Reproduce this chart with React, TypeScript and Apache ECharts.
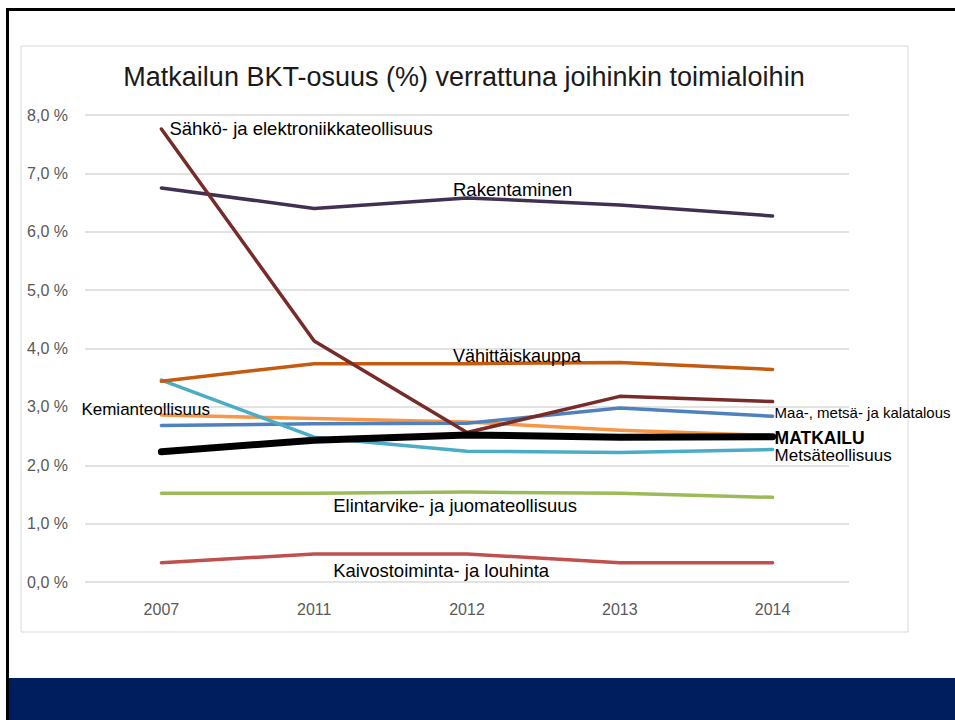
import React, { useEffect, useRef } from "react";
import * as echarts from "echarts";

const years = ["2007", "2011", "2012", "2013", "2014"];
const yTicks = [0, 1, 2, 3, 4, 5, 6, 7, 8];

const kaivos = [0.33, 0.48, 0.48, 0.33, 0.33];
const elintarvike = [1.52, 1.52, 1.54, 1.52, 1.45];
const kemian = [2.86, 2.8, 2.74, 2.6, 2.51];
const maa = [2.68, 2.71, 2.72, 2.98, 2.84];
const metsa = [3.46, 2.48, 2.24, 2.22, 2.27];
const vahittais = [3.44, 3.74, 3.74, 3.76, 3.64];
const rakentaminen = [6.75, 6.4, 6.58, 6.46, 6.27];
const sahko = [7.76, 4.13, 2.56, 3.18, 3.09];
const matkailu = [2.23, 2.43, 2.52, 2.48, 2.49];

const seriesNames = [
  "Kaivostoiminta- ja louhinta",
  "Elintarvike- ja juomateollisuus",
  "Kemianteollisuus",
  "Maa-, metsä- ja kalatalous",
  "Metsäteollisuus",
  "Vähittäiskauppa",
  "Rakentaminen",
  "Sähkö- ja elektroniikkateollisuus",
  "MATKAILU",
];
const seriesData = [kaivos, elintarvike, kemian, maa, metsa, vahittais, rakentaminen, sahko, matkailu];
const seriesColors = ["#C0504D", "#9BBB59", "#F79646", "#4F81BD", "#4BACC6", "#C55A11", "#403152", "#772C2A", "#000000"];

// label anchor: [seriesIndex, categoryIndex, dx, dy, fontSize, bold]
const labelAnchors: [number, number, number, number, number, boolean][] = [
  [0, 1, 19, 17, 18.5, false],
  [1, 1, 19, 12, 18.5, false],
  [2, 0, -80, -6, 17, false],
  [3, 4, 2, -4, 15, false],
  [4, 4, 2, 6, 17, false],
  [5, 2, -14, -8, 18, false],
  [6, 2, -14, -8, 18.5, false],
  [7, 0, 8, -1, 18.5, false],
  [8, 4, 2, 1, 17.5, true],
];

const FONT = "'Liberation Sans', Arial, sans-serif";

export default function App() {
  const ref = useRef<HTMLDivElement>(null);
  useEffect(() => {
    if (!ref.current) return;
    const chart = echarts.init(ref.current, null, { renderer: "svg" });
    chart.setOption({
      animation: false,
      backgroundColor: "#ffffff",
      grid: { left: 85, right: 106, top: 115, bottom: 138 },
      xAxis: {
        type: "category",
        data: years,
        boundaryGap: true,
        axisLine: { show: false },
        axisTick: { show: false },
        axisLabel: { color: "#595959", fontSize: 16, fontFamily: FONT, margin: 19 },
      },
      yAxis: {
        type: "value",
        min: yTicks[0],
        max: yTicks[yTicks.length - 1],
        interval: 1,
        axisLine: { show: false },
        axisTick: { show: false },
        splitLine: { lineStyle: { color: "#D9D9D9", width: 1.5 } },
        axisLabel: {
          color: "#595959",
          fontSize: 16,
          fontFamily: FONT,
          margin: 17,
          formatter: (v: number) => v.toFixed(1).replace(".", ",") + " %",
        },
      },
      series: seriesNames.map((name, i) => ({
        name,
        type: "line",
        data: seriesData[i],
        showSymbol: false,
        symbol: "none",
        lineStyle: { color: seriesColors[i], width: name === "MATKAILU" ? 7 : 3.5, cap: "round", join: "round" },
        z: 2 + i,
      })),
    });

    const labels = labelAnchors.map(([si, ci, dx, dy, fs, bold]) => {
      const p = chart.convertToPixel({ seriesIndex: si }, [ci, seriesData[si][ci]]) as number[];
      return {
        type: "text",
        x: p[0] + dx,
        y: p[1] + dy,
        z: 50,
        style: {
          text: seriesNames[si],
          fill: "#000000",
          fontSize: fs,
          fontWeight: bold ? "bold" : "normal",
          fontFamily: FONT,
          textAlign: "left",
          textVerticalAlign: "middle",
        },
      };
    });

    chart.setOption({
      graphic: [
        { type: "rect", shape: { x: 21, y: 46, width: 887, height: 586 }, style: { fill: "none", stroke: "#D9D9D9", lineWidth: 1 }, z: 0 },
        { type: "rect", shape: { x: 6, y: 8, width: 949, height: 3 }, style: { fill: "#000000" }, z: 60 },
        { type: "rect", shape: { x: 6, y: 8, width: 3, height: 712 }, style: { fill: "#000000" }, z: 60 },
        { type: "rect", shape: { x: 9, y: 678, width: 946, height: 42 }, style: { fill: "#001E5E" }, z: 60 },
        {
          type: "text",
          x: 464,
          y: 77,
          z: 50,
          style: {
            text: "Matkailun BKT-osuus (%) verrattuna joihinkin toimialoihin",
            fill: "#1A1A1A",
            fontSize: 27,
            fontFamily: FONT,
            textAlign: "center",
            textVerticalAlign: "middle",
          },
        },
        ...labels,
      ],
    });
    return () => chart.dispose();
  }, []);
  return <div ref={ref} style={{ position: "absolute", left: 0, top: 0, width: 955, height: 720 }} />;
}
